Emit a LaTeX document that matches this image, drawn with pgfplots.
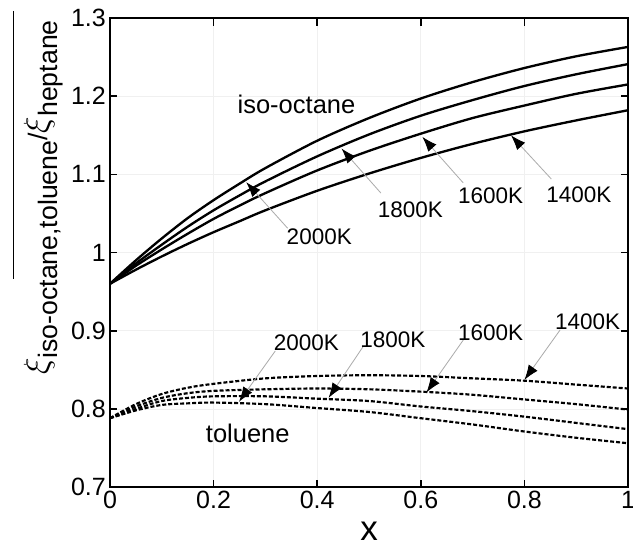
\documentclass[border=0pt]{standalone}
\usepackage{pgfplots}
\pgfplotsset{compat=1.18}
\usepackage{fontspec}
\setmainfont{Liberation Sans}
\usetikzlibrary{arrows.meta}
\begin{document}
\begin{tikzpicture}
\begin{axis}[
  scale only axis,
  width=310.8pt, height=281.4pt,
  xmin=0, xmax=1, ymin=0.7, ymax=1.3,
  clip mode=individual,
  xtick={0,0.2,0.4,0.6,0.8,1},
  xticklabels={0,0.2,0.4,0.6,0.8,1},
  ytick={0.7,0.8,0.9,1,1.1,1.2,1.3},
  yticklabels={0.7,0.8,0.9,1,1.1,1.2,1.3},
  tick align=inside,
  major tick length=4.5pt,
  tick style={black, line width=1pt},
  axis line style={line width=1.2pt},
  grid=major,
  major grid style={gray!12, line width=0.4pt},
  ticklabel style={font=\fontsize{15}{17}\selectfont},
  xticklabel style={yshift=1pt},
  yticklabel style={xshift=1pt},
  xlabel={x},
  xlabel style={font=\fontsize{21}{21}\selectfont, at={(rel axis cs:0.5,0)}, anchor=center, inner sep=0pt, yshift=-26.5pt},
]
% iso-octane (solid)
\addplot[black, line width=1.4pt, smooth] coordinates {
(0,0.960) (0.05,0.990) (0.1,1.018) (0.15,1.044) (0.2,1.067) (0.25,1.088) (0.3,1.108) (0.4,1.143) (0.5,1.172) (0.6,1.197) (0.7,1.218) (0.8,1.236) (0.9,1.251) (1.0,1.263)};
\addplot[black, line width=1.4pt, smooth] coordinates {
(0,0.960) (0.05,0.986) (0.1,1.010) (0.15,1.033) (0.2,1.054) (0.25,1.073) (0.3,1.091) (0.4,1.123) (0.5,1.151) (0.6,1.175) (0.7,1.195) (0.8,1.213) (0.9,1.228) (1.0,1.241)};
\addplot[black, line width=1.4pt, smooth] coordinates {
(0,0.960) (0.05,0.983) (0.1,1.004) (0.15,1.024) (0.2,1.043) (0.25,1.060) (0.3,1.076) (0.4,1.105) (0.5,1.130) (0.6,1.152) (0.7,1.172) (0.8,1.188) (0.9,1.203) (1.0,1.215)};
\addplot[black, line width=1.4pt, smooth] coordinates {
(0,0.960) (0.05,0.978) (0.1,0.995) (0.15,1.011) (0.2,1.026) (0.25,1.040) (0.3,1.054) (0.4,1.079) (0.5,1.101) (0.6,1.121) (0.7,1.139) (0.8,1.155) (0.9,1.169) (1.0,1.182)};
% toluene (dashed)
\addplot[black, line width=1.3pt, smooth, dash pattern=on 2.4pt off 1.2pt] coordinates {
(0,0.788) (0.05,0.806) (0.1,0.819) (0.15,0.827) (0.2,0.832) (0.3,0.839) (0.4,0.842) (0.5,0.843) (0.6,0.842) (0.7,0.839) (0.8,0.836) (0.9,0.831) (1.0,0.826)};
\addplot[black, line width=1.3pt, smooth, dash pattern=on 2.4pt off 1.2pt] coordinates {
(0,0.788) (0.05,0.803) (0.1,0.814) (0.15,0.820) (0.2,0.823) (0.3,0.825) (0.4,0.826) (0.5,0.825) (0.6,0.822) (0.7,0.818) (0.8,0.812) (0.9,0.806) (1.0,0.799)};
\addplot[black, line width=1.3pt, smooth, dash pattern=on 2.4pt off 1.2pt] coordinates {
(0,0.788) (0.05,0.800) (0.1,0.810) (0.15,0.814) (0.2,0.816) (0.3,0.816) (0.4,0.813) (0.5,0.810) (0.6,0.803) (0.7,0.797) (0.8,0.790) (0.9,0.782) (1.0,0.774)};
\addplot[black, line width=1.3pt, smooth, dash pattern=on 2.4pt off 1.2pt] coordinates {
(0,0.788) (0.05,0.798) (0.1,0.805) (0.15,0.807) (0.2,0.808) (0.3,0.806) (0.4,0.801) (0.5,0.796) (0.6,0.788) (0.7,0.780) (0.8,0.771) (0.9,0.763) (1.0,0.756)};
% labels
\node[font=\fontsize{15.3}{17}\selectfont] at (axis cs:0.36,1.19) {iso-octane};
\node[font=\fontsize{15.3}{17}\selectfont] at (axis cs:0.266,0.768) {toluene};
\tikzset{ann/.style={gray!65, line width=0.5pt, -{Latex[black,length=9pt,width=6.5pt]}},
         lab/.style={font=\fontsize{13.5}{15}\selectfont}}
\node[lab] at (axis cs:0.404,1.020) {2000K};
\node[lab] at (axis cs:0.580,1.055) {1800K};
\node[lab] at (axis cs:0.735,1.072) {1600K};
\node[lab] at (axis cs:0.905,1.074) {1400K};
\draw[ann] (axis cs:0.343,1.031) -- (axis cs:0.263,1.090);
\draw[ann] (axis cs:0.523,1.076) -- (axis cs:0.447,1.133);
\draw[ann] (axis cs:0.682,1.089) -- (axis cs:0.603,1.148);
\draw[ann] (axis cs:0.852,1.094) -- (axis cs:0.774,1.150);
\node[lab] at (axis cs:0.379,0.884) {2000K};
\node[lab] at (axis cs:0.546,0.889) {1800K};
\node[lab] at (axis cs:0.735,0.897) {1600K};
\node[lab] at (axis cs:0.922,0.912) {1400K};
\draw[ann] (axis cs:0.319,0.874) -- (axis cs:0.249,0.809);
\draw[ann] (axis cs:0.488,0.879) -- (axis cs:0.422,0.814);
\draw[ann] (axis cs:0.682,0.888) -- (axis cs:0.611,0.821);
\draw[ann] (axis cs:0.869,0.901) -- (axis cs:0.800,0.837);
% y label
\node[rotate=90, font=\fontsize{16}{18}\selectfont] at ([xshift=-40pt]rel axis cs:0,0.617)
  {{\fontsize{22}{22}\selectfont$\xi$}\raisebox{-0.35em}{iso-octane,toluene}/{\fontsize{22}{22}\selectfont$\xi$}\raisebox{-0.35em}{heptane}};
\draw[black, line width=0.6pt] ([xshift=-57.6pt]rel axis cs:0,1.015) -- ([xshift=-57.6pt]rel axis cs:0,0.4435);
\end{axis}
\pgfresetboundingbox
\useasboundingbox (-66pt,-37.2pt) rectangle (313.8pt,292.2pt);
\end{tikzpicture}
\end{document}
